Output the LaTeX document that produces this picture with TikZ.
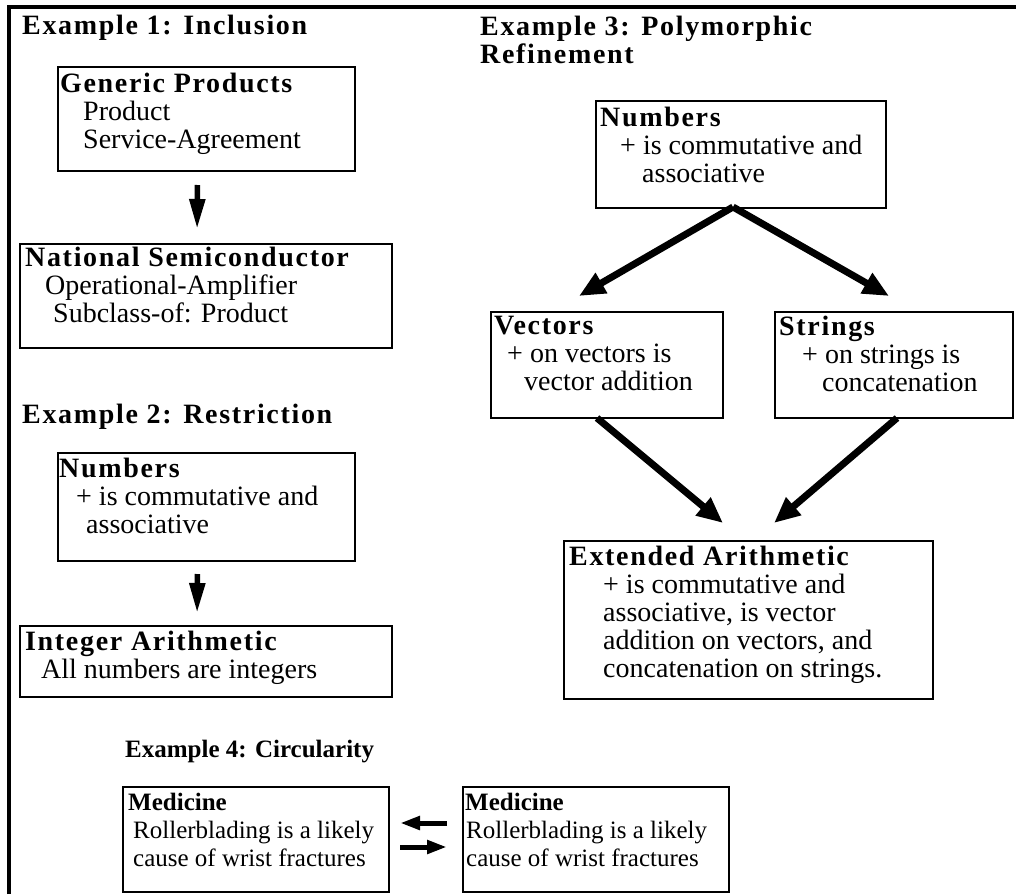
\documentclass[tikz,border=0pt]{standalone}
\usepackage{fontspec}
\setmainfont{Liberation Serif}[BoldFeatures={LetterSpace=6.0}]
\newfontfamily\plainserif{Liberation Serif}
\usetikzlibrary{arrows.meta}

\tikzset{
  frame/.style={line width=3.5pt},
  box/.style={draw, line width=2pt, anchor=north west, inner sep=0pt},
  txt/.style={anchor=north west, inner sep=0pt, align=left, font=\fontsize{28}{28}\selectfont},
  small txt/.style={txt, font=\fontsize{25}{28}\selectfont},
  head/.style={anchor=base west, inner sep=0pt, font=\fontsize{28}{28}\selectfont\bfseries},
  down arrow/.style={line width=5.5pt, -{Triangle[length=30pt,width=15pt]}},
  fat arrow/.style={line width=7pt, -{Triangle[length=26pt,width=22pt]}},
  side arrow/.style={line width=5pt, -{Triangle[length=20pt,width=13pt]}},
}
\newcommand{\tightbold}[1]{{\plainserif\bfseries #1}}

\begin{document}
\begin{tikzpicture}[x=1pt,y=-1pt]
    \useasboundingbox (0,0) rectangle (1016,894);
    \draw[frame] (9,894) -- (9,7) -- (1016,7);

    % Example 1
    \node[head] (exone) at (22,34) {Example 1: Inclusion};
    \node[box, minimum width=297pt, minimum height=104pt] (generic) at (57,66) {};
    \node[txt] (generictxt) at (60,73) {\textbf{Generic Products}\\\hspace*{23pt}Product\\\hspace*{23pt}Service-Agreement};
    \node[box, minimum width=372pt, minimum height=104pt] (national) at (19,243) {};
    \node[txt] (nationaltxt) at (25,247) {\textbf{National Semiconductor}\\\hspace*{20pt}Operational-Amplifier\\\hspace*{28pt}Subclass-of: Product};
    \draw[down arrow, shorten <=13pt, shorten >=14pt] ([xshift=-9pt]generic.south) -- ([xshift=-9pt]national.north);

    % Example 2
    \node[head] (extwo) at (22,423) {Example 2: Restriction};
    \node[box, minimum width=297pt, minimum height=108pt] (numtwo) at (57,452) {};
    \node[txt] (numtwotxt) at (59,458) {\textbf{Numbers}\\\hspace*{17pt}+ is commutative and\\\hspace*{27pt}associative};
    \node[box, minimum width=372pt, minimum height=71pt] (integer) at (19,625) {};
    \node[txt] (integertxt) at (25,631) {\textbf{Integer Arithmetic}\\\hspace*{16pt}All numbers are integers};
    \draw[down arrow, shorten <=12pt, shorten >=12pt] ([xshift=-9pt]numtwo.south) -- ([xshift=-9pt]integer.north);

    % Example 3
    \node[head] (exthree) at (480,35) {Example 3: Polymorphic};
    \node[head] (exthreeb) at (480,63) {Refinement};
    \node[box, minimum width=290pt, minimum height=107pt] (numthree) at (595,100) {};
    \node[txt] (numthreetxt) at (600,107) {\textbf{Numbers}\\\hspace*{20pt}+ is commutative and\\\hspace*{42pt}associative};
    \node[box, minimum width=232pt, minimum height=106pt] (vectors) at (490,311) {};
    \node[txt] (vectorstxt) at (494,316) {\textbf{Vectors}\\\hspace*{13pt}+ on vectors is\\\hspace*{30pt}vector addition};
    \node[box, minimum width=238pt, minimum height=106pt] (strings) at (774,311) {};
    \node[txt] (stringstxt) at (779,316) {\textbf{Strings}\\\hspace*{23pt}+ on strings is\\\hspace*{43pt}concatenation};
    \node[box, minimum width=369pt, minimum height=158pt] (extended) at (563,540) {};
    \node[txt] (extendedtxt) at (569,546) {\textbf{Extended Arithmetic}\\\hspace*{34pt}+ is commutative and\\\hspace*{34pt}associative, is vector\\\hspace*{34pt}addition on vectors, and\\\hspace*{34pt}concatenation on strings.};
    \draw[fat arrow] ([xshift=-8pt,yshift=2pt]numthree.south) -- ([xshift=-28pt,yshift=15pt]vectors.north);
    \draw[fat arrow] ([xshift=-8pt,yshift=2pt]numthree.south) -- ([xshift=-5pt,yshift=15pt]strings.north);
    \draw[fat arrow] ([xshift=-10pt,yshift=1pt]vectors.south) -- ([xshift=-25.5pt,yshift=17pt]extended.north);
    \draw[fat arrow] ([xshift=3pt,yshift=1pt]strings.south) -- ([xshift=25.5pt,yshift=17pt]extended.north);

    % Example 4
    \node[head, font=\fontsize{25}{28}\selectfont] (exfour) at (125,757) {\tightbold{Example 4: Circularity}};
    \node[box, minimum width=266pt, minimum height=105pt] (medleft) at (122,786) {};
    \node[small txt] (medlefttxt) at (128,793) {\tightbold{Medicine}\\\hspace*{5pt}Rollerblading is a likely\\\hspace*{5pt}cause of wrist fractures};
    \node[box, minimum width=266pt, minimum height=105pt] (medright) at (462,786) {};
    \node[small txt] (medrighttxt) at (465,793) {\tightbold{Medicine}\\\hspace*{1pt}Rollerblading is a likely\\\hspace*{1pt}cause of wrist fractures};
    \draw[side arrow, shorten <=15pt, shorten >=10pt] ([yshift=16.5pt]medright.west) -- ([yshift=16.5pt]medleft.east);
    \draw[side arrow, shorten <=10pt, shorten >=15pt] ([yshift=-7.5pt]medleft.east) -- ([yshift=-7.5pt]medright.west);
 \end{tikzpicture}
\end{document}
